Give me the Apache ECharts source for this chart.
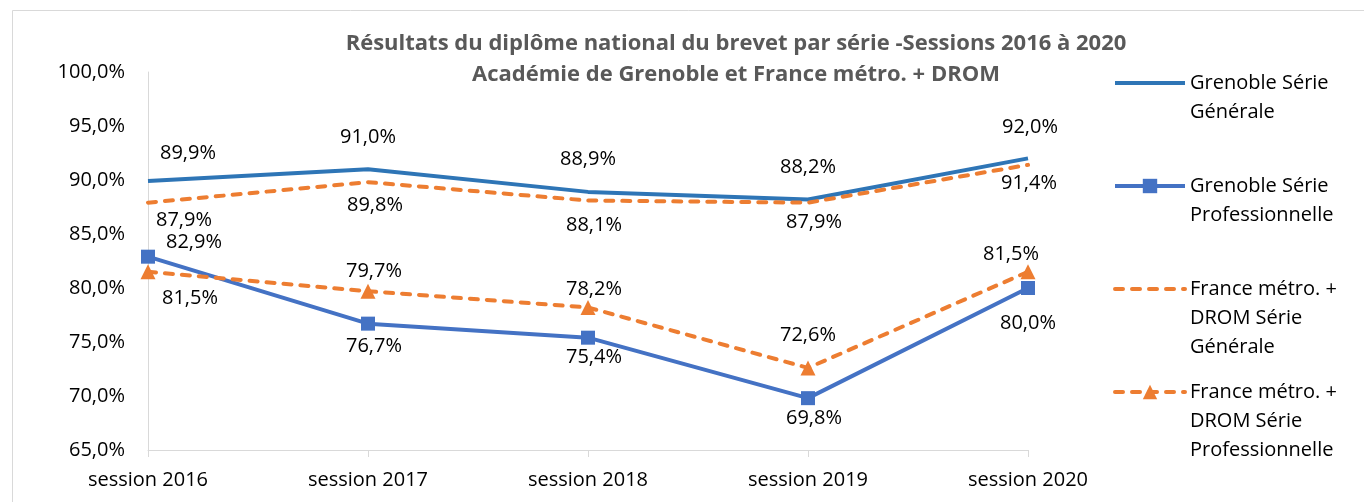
<!DOCTYPE html>
<html>
<head>
<meta charset="utf-8">
<script src="https://cdn.jsdelivr.net/npm/echarts@6/dist/echarts.min.js"></script>
<style>
  html, body { margin: 0; padding: 0; background: #fff; }
  #chart { width: 1364px; height: 502px; }
</style>
</head>
<body>
<div id="chart"></div>
<script>
var sessions = ['session 2016', 'session 2017', 'session 2018', 'session 2019', 'session 2020'];
var seriesNames = [
  'Grenoble Série\nGénérale',
  'Grenoble Série\nProfessionnelle',
  'France métro. +\nDROM Série\nGénérale',
  'France métro. +\nDROM Série\nProfessionnelle'
];
var grenobleGenerale = [89.9, 91.0, 88.9, 88.2, 92.0];
var grenoblePro = [82.9, 76.7, 75.4, 69.8, 80.0];
var franceGenerale = [87.9, 89.8, 88.1, 87.9, 91.4];
var francePro = [81.5, 79.7, 78.2, 72.6, 81.5];

// label placement (px from the point), like the excel source
var offGG = [[40, -28], [0, -32], [0, -33], [0, -32], [2, -31]];
var offGP = [[46, -14], [6, 23], [6, 20], [6, 20], [0, 35]];
var offFG = [[36, 18], [7, 23], [6, 25], [6, 20], [1, 18]];
var offFP = [[42, 26], [6, -20], [6, -18], [0, -33], [-17, -18]];

var font = 'Open Sans';
var blue1 = '#2E75B6', blue2 = '#4472C4', orange = '#ED7D31';

function pct(v) {
  return v.toFixed(1).replace('.', ',') + '%';
}

function points(values, offs) {
  return values.map(function (v, i) {
    return { value: v, label: { offset: offs[i] } };
  });
}

function makeSeries(name, values, offs, color, dashed, symbol, size) {
  return {
    name: name,
    type: 'line',
    data: points(values, offs),
    symbol: symbol,
    symbolSize: size || 1,
    showSymbol: true,
    color: color,
    // no marker on the plain lines: symbol kept (labels hang on it) but transparent
    itemStyle: { color: size ? color : 'transparent' },
    lineStyle: { color: color, width: 4, type: dashed ? [8, 9] : 'solid', cap: dashed ? 'round' : 'butt' },
    label: {
      show: true,
      position: 'inside',
      color: '#000',
      fontFamily: font,
      fontSize: 20,
      formatter: function (p) { return pct(p.value); }
    },
    emphasis: { disabled: true }
  };
}

var myChart = echarts.init(document.getElementById('chart'), null, { renderer: 'canvas' });

// legend: one block per series, icon on the first text line
var legendIconY = [83, 186, 289, 392];
var legends = seriesNames.map(function (name, i) {
  var n = name.split('\n').length;
  var blockH = (2 * n - 1) * 29;
  return {
    data: [name],
    left: 1113,
    top: legendIconY[i] - blockH / 2,
    padding: 0,
    orient: 'vertical',
    itemWidth: 70,
    itemHeight: 18,
    selectedMode: false,
    lineStyle: { width: 4 },
    formatter: function (nm) {
      return new Array(nm.split('\n').length).join('\n') + nm;
    },
    textStyle: { color: '#000', fontFamily: font, fontSize: 20, lineHeight: 29 }
  };
});

var option = {
  animation: false,
  backgroundColor: '#fff',
  title: {
    text: 'Résultats du diplôme national du brevet par série -Sessions 2016 à 2020\nAcadémie de Grenoble et France métro. + DROM',
    left: 736,
    top: 28,
    padding: 0,
    textAlign: 'center',
    textStyle: {
      color: '#595959',
      fontFamily: font,
      fontSize: 22,
      fontWeight: 'bold',
      lineHeight: 31
    }
  },
  graphic: [{
    type: 'rect',
    shape: { x: 12.5, y: 10.5, width: 1400, height: 600 },
    style: { fill: 'none', stroke: '#D9D9D9', lineWidth: 1 },
    silent: true
  }],
  legend: legends,
  grid: { left: 148, right: 336, top: 72, bottom: 52, containLabel: false },
  xAxis: {
    type: 'category',
    data: sessions,
    boundaryGap: false,
    axisLine: { lineStyle: { color: '#D9D9D9', width: 1 } },
    axisTick: { show: true, length: 7, lineStyle: { color: '#D9D9D9' } },
    axisLabel: { color: '#000', fontFamily: font, fontSize: 20, margin: 20 }
  },
  yAxis: {
    type: 'value',
    min: 65,
    max: 100,
    interval: 5,
    axisLine: { show: true, lineStyle: { color: '#D9D9D9', width: 1 } },
    axisTick: { show: false },
    splitLine: { show: false },
    axisLabel: {
      color: '#000',
      fontFamily: font,
      fontSize: 20,
      margin: 23,
      formatter: function (v) { return pct(v); }
    }
  },
  series: [
    makeSeries(seriesNames[0], grenobleGenerale, offGG, blue1, false, 'circle', 0),
    makeSeries(seriesNames[1], grenoblePro, offGP, blue2, false, 'rect', 14),
    makeSeries(seriesNames[2], franceGenerale, offFG, orange, true, 'circle', 0),
    makeSeries(seriesNames[3], francePro, offFP, orange, true, 'triangle', 15)
  ]
};

myChart.setOption(option);
</script>
</body>
</html>
